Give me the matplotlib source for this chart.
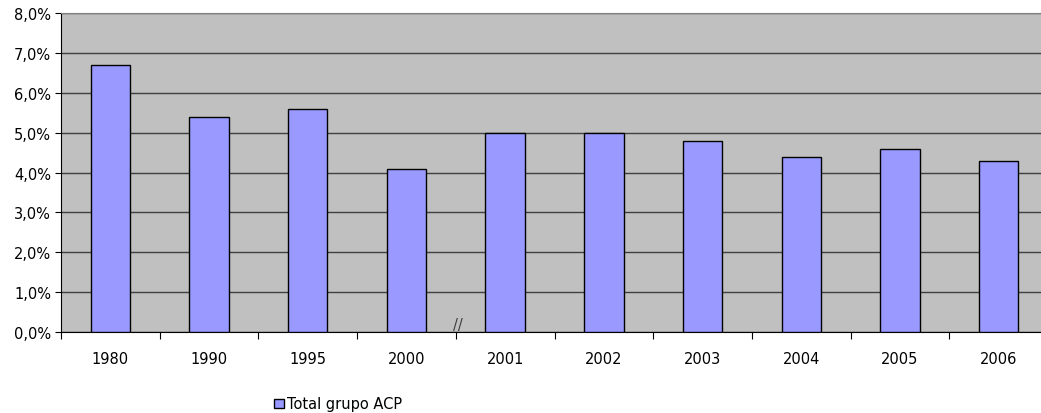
import matplotlib.pyplot as plt
import matplotlib.ticker as mticker
import numpy as np

years = ['1980', '1990', '1995', '2000', '2001', '2002', '2003', '2004', '2005', '2006']
share = [6.7, 5.4, 5.6, 4.1, 5.0, 5.0, 4.8, 4.4, 4.6, 4.3]
series_name = 'Total grupo ACP'

plt.rcParams['font.family'] = 'DejaVu Sans'
plt.rcParams['font.size'] = 10.5

W, H = 1041, 414
fig = plt.figure(figsize=(W / 100, H / 100), dpi=100)
# plot area runs a little past the right edge of the canvas
ax = fig.add_axes([61 / W, 1 - 333 / H, (1048 - 61) / W, (333 - 14) / H])
ax.set_facecolor('#C0C0C0')

x = np.arange(len(years))
bars = ax.bar(x, share, width=0.40, color='#9999FF', edgecolor='black', linewidth=1.0,
              zorder=3, label=series_name)

ax.set_xlim(-0.5, len(years) - 0.5)
ax.set_ylim(0, 8)
ax.yaxis.set_major_locator(mticker.MultipleLocator(1))
ax.yaxis.set_major_formatter(mticker.FuncFormatter(lambda v, p: f'{v:.1f}%'.replace('.', ',')))
ax.grid(axis='y', color='#404040', linewidth=1.0, zorder=1)

# category labels centered, tick marks on the category boundaries
ax.set_xticks(x)
ax.set_xticklabels(years)
ax.tick_params(axis='x', length=0, pad=13.5, labelsize=10.5)
ax.set_xticks(np.arange(-0.5, len(years) + 0.5, 1), minor=True)
ax.tick_params(axis='x', which='minor', length=5, width=0.8, direction='out')
ax.tick_params(axis='y', length=4, width=0.8, direction='out', pad=3, labelsize=10.5)

ax.spines['right'].set_visible(False)
ax.spines['top'].set_color('#808080')
ax.spines['left'].set_color('black')
ax.spines['bottom'].set_color('black')

# axis break mark between 2000 and 2001
ax.text(3.52, 0.0, '//', ha='center', va='bottom', fontsize=10.5, color='#404040', zorder=4)

fig.legend(handles=[bars], labels=[series_name], loc='center left',
           bbox_to_anchor=(261 / W, 1 - 405 / H), frameon=False,
           handlelength=0.65, handleheight=0.65, handletextpad=0.25, fontsize=10.5)

fig.savefig('out.png', dpi=100)
